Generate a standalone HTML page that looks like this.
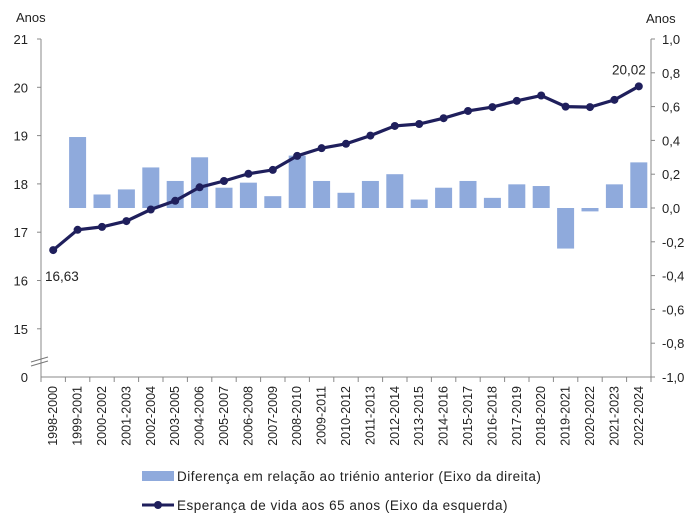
<!DOCTYPE html>
<html><head><meta charset="utf-8"><style>
html,body{margin:0;padding:0;background:#fff;}
svg{display:block;font-family:"Liberation Sans",sans-serif;}
</style></head><body>
<svg id="chart" width="700" height="524">
<g id="axes"></g><g id="bars"></g><g id="line"></g><g id="labels"></g>
<g>
<rect x="142" y="471" width="32" height="10" fill="#8faadc"/>
<text x="177" y="481" font-size="13.5" letter-spacing="0.5" fill="#222">Diferença em relação ao triénio anterior (Eixo da direita)</text>
<line x1="142" y1="505" x2="174" y2="505" stroke="#1f1f5c" stroke-width="3"/>
<circle cx="158" cy="505" r="4" fill="#1f1f5c"/>
<text x="177" y="510" font-size="13.5" letter-spacing="0.5" fill="#222">Esperança de vida aos 65 anos (Eixo da esquerda)</text>
</g>
</svg>
<script>
const categories=["1998-2000","1999-2001","2000-2002","2001-2003","2002-2004","2003-2005","2004-2006","2005-2007","2006-2008","2007-2009","2008-2010","2009-2011","2010-2012","2011-2013","2012-2014","2013-2015","2014-2016","2015-2017","2016-2018","2017-2019","2018-2020","2019-2021","2020-2022","2021-2023","2022-2024"];
const lifeExp=[16.63,17.05,17.11,17.23,17.47,17.65,17.93,18.06,18.21,18.29,18.58,18.74,18.83,19.0,19.2,19.24,19.36,19.51,19.59,19.72,19.83,19.6,19.59,19.74,20.02];
const diffs=[null,0.42,0.08,0.11,0.24,0.16,0.30,0.12,0.15,0.07,0.31,0.16,0.09,0.16,0.20,0.05,0.12,0.16,0.06,0.14,0.13,-0.24,-0.02,0.14,0.27];
const leftTicks=[15,16,17,18,19,20,21];
const rightTicks=[-1.0,-0.8,-0.6,-0.4,-0.2,0.0,0.2,0.4,0.6,0.8,1.0];
const NS="http://www.w3.org/2000/svg";
const X0=41,X1=651,TOP=39,BOT=377;
const step=(X1-X0)/categories.length;
const xc=i=>X0+step*(i+0.5);
const yL=v=>TOP+(21-v)*48.3;
const yR=v=>208-v*169;
function mk(tag,attrs,parent){const e=document.createElementNS(NS,tag);for(const k in attrs)e.setAttribute(k,attrs[k]);parent.appendChild(e);return e;}
const axes=document.getElementById('axes'),bars=document.getElementById('bars'),lineG=document.getElementById('line'),lab=document.getElementById('labels');
let a=mk('line',{x1:X0,y1:TOP,x2:X0,y2:BOT,stroke:'#888'},axes);


a=mk('line',{x1:X1,y1:TOP,x2:X1,y2:BOT,stroke:'#888'},axes);


a=mk('line',{x1:X0,y1:BOT,x2:X1,y2:BOT,stroke:'#888'},axes);


mk('line',{x1:31,y1:362,x2:48,y2:357,stroke:'#777'},axes);
mk('line',{x1:31,y1:366,x2:48,y2:361,stroke:'#777'},axes);
leftTicks.forEach(v=>{
 mk('line',{x1:X0-4,y1:yL(v),x2:X0,y2:yL(v),stroke:'#888'},axes);
 const t=mk('text',{x:28,y:yL(v)+5,'font-size':13,'text-anchor':'end',fill:'#222'},axes);t.textContent=v;
 
 
});
let t0=mk('text',{x:28,y:BOT+5,'font-size':13,'text-anchor':'end',fill:'#222'},axes);t0.textContent='0';


rightTicks.forEach(v=>{
 mk('line',{x1:X1,y1:yR(v),x2:X1+4,y2:yR(v),stroke:'#888'},axes);
 const t=mk('text',{x:662,y:yR(v)+5,'font-size':13,fill:'#222'},axes);t.textContent=v.toFixed(1).replace('.',',');
 
 
});
let tt=mk('text',{x:16,y:22,'font-size':13,fill:'#222'},axes);tt.textContent='Anos';


tt=mk('text',{x:646,y:23,'font-size':13,fill:'#222'},axes);tt.textContent='Anos';


categories.forEach((c,i)=>{
 mk('line',{x1:X0+step*i,y1:BOT,x2:X0+step*i,y2:BOT+5,stroke:'#888'},axes);
 const t=mk('text',{x:0,y:0,'font-size':12.5,'text-anchor':'end',fill:'#222',transform:`translate(${xc(i)+4},386) rotate(-90)`},axes);t.textContent=c;
 
 
});
mk('line',{x1:X1,y1:BOT,x2:X1,y2:BOT+5,stroke:'#888'},axes);
diffs.forEach((v,i)=>{
 if(v===null)return;
 const y=Math.min(yR(v),yR(0)),h=Math.abs(yR(v)-yR(0));
 const r=mk('rect',{x:xc(i)-8.5,y:y,width:17,height:h,fill:'#8faadc'},bars);
 
 
});
const pl=mk('polyline',{points:lifeExp.map((v,i)=>xc(i)+','+yL(v)).join(' '),fill:'none',stroke:'#1f1f5c','stroke-width':3.2},lineG);


lifeExp.forEach((v,i)=>{
 const c=mk('circle',{cx:xc(i),cy:yL(v),r:4,fill:'#1f1f5c'},lineG);
 
 
});
let l=mk('text',{x:45,y:281,'font-size':13.5,fill:'#222'},lab);l.textContent=lifeExp[0].toFixed(2).replace('.',',');


const n=lifeExp.length-1;
l=mk('text',{x:xc(n)+7,y:yL(lifeExp[n])-12,'font-size':13.5,'text-anchor':'end',fill:'#222'},lab);l.textContent=lifeExp[n].toFixed(2).replace('.',',');


</script>
</body></html>
